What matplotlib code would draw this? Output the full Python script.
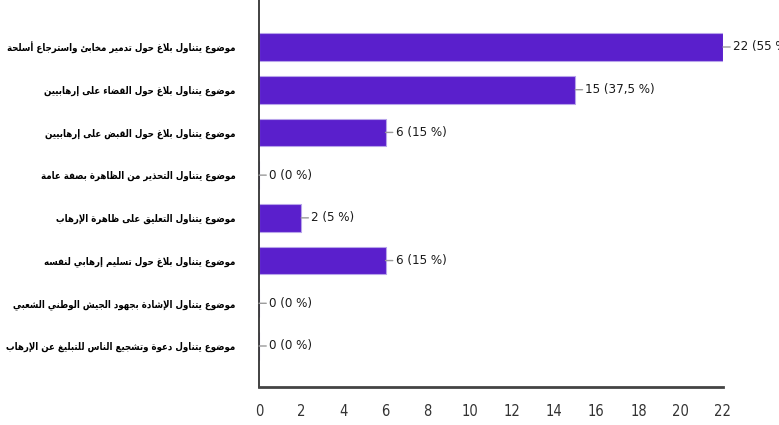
import numpy as np
import matplotlib
matplotlib.use('Agg')
import matplotlib.pyplot as plt

# Topics (top to bottom) and number of articles per topic
topics = [
    'موضوع يتناول بلاغ حول تدمير مخابئ واسترجاع أسلحة',
    'موضوع يتناول بلاغ حول القضاء على إرهابيين',
    'موضوع يتناول بلاغ حول القبض على إرهابيين',
    'موضوع يتناول التحذير من الظاهرة بصفة عامة',
    'موضوع يتناول التعليق على ظاهرة الإرهاب',
    'موضوع يتناول بلاغ حول تسليم إرهابي لنفسه',
    'موضوع يتناول الإشادة بجهود الجيش الوطني الشعبي',
    'موضوع يتناول دعوة وتشجيع الناس للتبليغ عن الإرهاب',
]
counts = [22, 15, 6, 0, 2, 6, 0, 0]
respondents = 40   # several answers allowed, percentages are per respondent
xticks = [0, 2, 4, 6, 8, 10, 12, 14, 16, 18, 20, 22]

# --- minimal arabic shaping (matplotlib draws glyphs left to right, unjoined) ---
letters = [('\u0621', 1), ('\u0622', 2), ('\u0623', 2), ('\u0624', 2), ('\u0625', 2),
           ('\u0626', 4), ('\u0627', 2), ('\u0628', 4), ('\u0629', 2), ('\u062A', 4),
           ('\u062B', 4), ('\u062C', 4), ('\u062D', 4), ('\u062E', 4), ('\u062F', 2),
           ('\u0630', 2), ('\u0631', 2), ('\u0632', 2), ('\u0633', 4), ('\u0634', 4),
           ('\u0635', 4), ('\u0636', 4), ('\u0637', 4), ('\u0638', 4), ('\u0639', 4),
           ('\u063A', 4), ('\u0641', 4), ('\u0642', 4), ('\u0643', 4), ('\u0644', 4),
           ('\u0645', 4), ('\u0646', 4), ('\u0647', 4), ('\u0648', 2), ('\u0649', 2),
           ('\u064A', 4)]
forms = {}
code = 0xFE80
for ch, n in letters:
    forms[ch] = [chr(code + k) for k in range(n)]   # isolated, final, initial, medial
    code += n
dual = {ch for ch, n in letters if n == 4}
lam_alef = {'\u0622': (0xFEF5, 0xFEF6), '\u0623': (0xFEF7, 0xFEF8),
            '\u0625': (0xFEF9, 0xFEFA), '\u0627': (0xFEFB, 0xFEFC)}


def shape(s):
    out = []
    i = 0
    while i < len(s):
        c = s[i]
        prev = s[i - 1] if i > 0 else ''
        joins_prev = prev in dual
        if c == '\u0644' and i + 1 < len(s) and s[i + 1] in lam_alef:
            iso, fin = lam_alef[s[i + 1]]
            out.append(chr(fin if joins_prev else iso))
            i += 2
            continue
        if c not in forms:
            out.append(c)
            i += 1
            continue
        f = forms[c]
        nxt = s[i + 1] if i + 1 < len(s) else ''
        joins_next = c in dual and nxt in forms
        if joins_prev and joins_next:
            out.append(f[3])
        elif joins_prev:
            out.append(f[1])
        elif joins_next:
            out.append(f[2])
        else:
            out.append(f[0])
        i += 1
    return ''.join(out)[::-1]


value_labels = []
for c in counts:
    pct = ('%g' % (c / respondents * 100)).replace('.', ',')
    value_labels.append('%d (%s %%)' % (c, pct))

fig = plt.figure(figsize=(7.79, 4.25), dpi=100)
ax = fig.add_axes([0.3325, 0.0894, 0.5955, 0.9106])

y = np.arange(len(counts))
ax.barh(y, counts, height=0.65, color='#5a1fcc', edgecolor='#b8a4ea', linewidth=0.8)

for yi, v, lab in zip(y, counts, value_labels):
    ax.annotate(lab, xy=(v, yi), xytext=(10, 0), textcoords='offset pixels',
                va='center', ha='left', fontsize=9.5, fontstretch='condensed',
                color='#1a1a1a',
                arrowprops=dict(arrowstyle='-', color='#9a9a9a', lw=1, shrinkA=0, shrinkB=0),
                annotation_clip=False)

ax.set_xlim(0, 22)
ax.set_ylim(7.96, -1.1)
ax.set_xticks(xticks)
ax.set_xticklabels([str(t) for t in xticks], fontsize=10.5, fontstretch='condensed',
                   color='#333333')
ax.set_yticks(y)
ax.set_yticklabels([shape(t) for t in topics], fontsize=6.9, fontweight='bold',
                   fontstretch='condensed')
ax.tick_params(axis='both', length=0)
ax.tick_params(axis='x', pad=12)
ax.tick_params(axis='y', pad=17)

for side in ['top', 'right']:
    ax.spines[side].set_visible(False)
ax.spines['left'].set_color('#333333')
ax.spines['left'].set_linewidth(1.3)
ax.spines['bottom'].set_color('#444444')
ax.spines['bottom'].set_linewidth(2)

fig.savefig('out.png', dpi=100)
